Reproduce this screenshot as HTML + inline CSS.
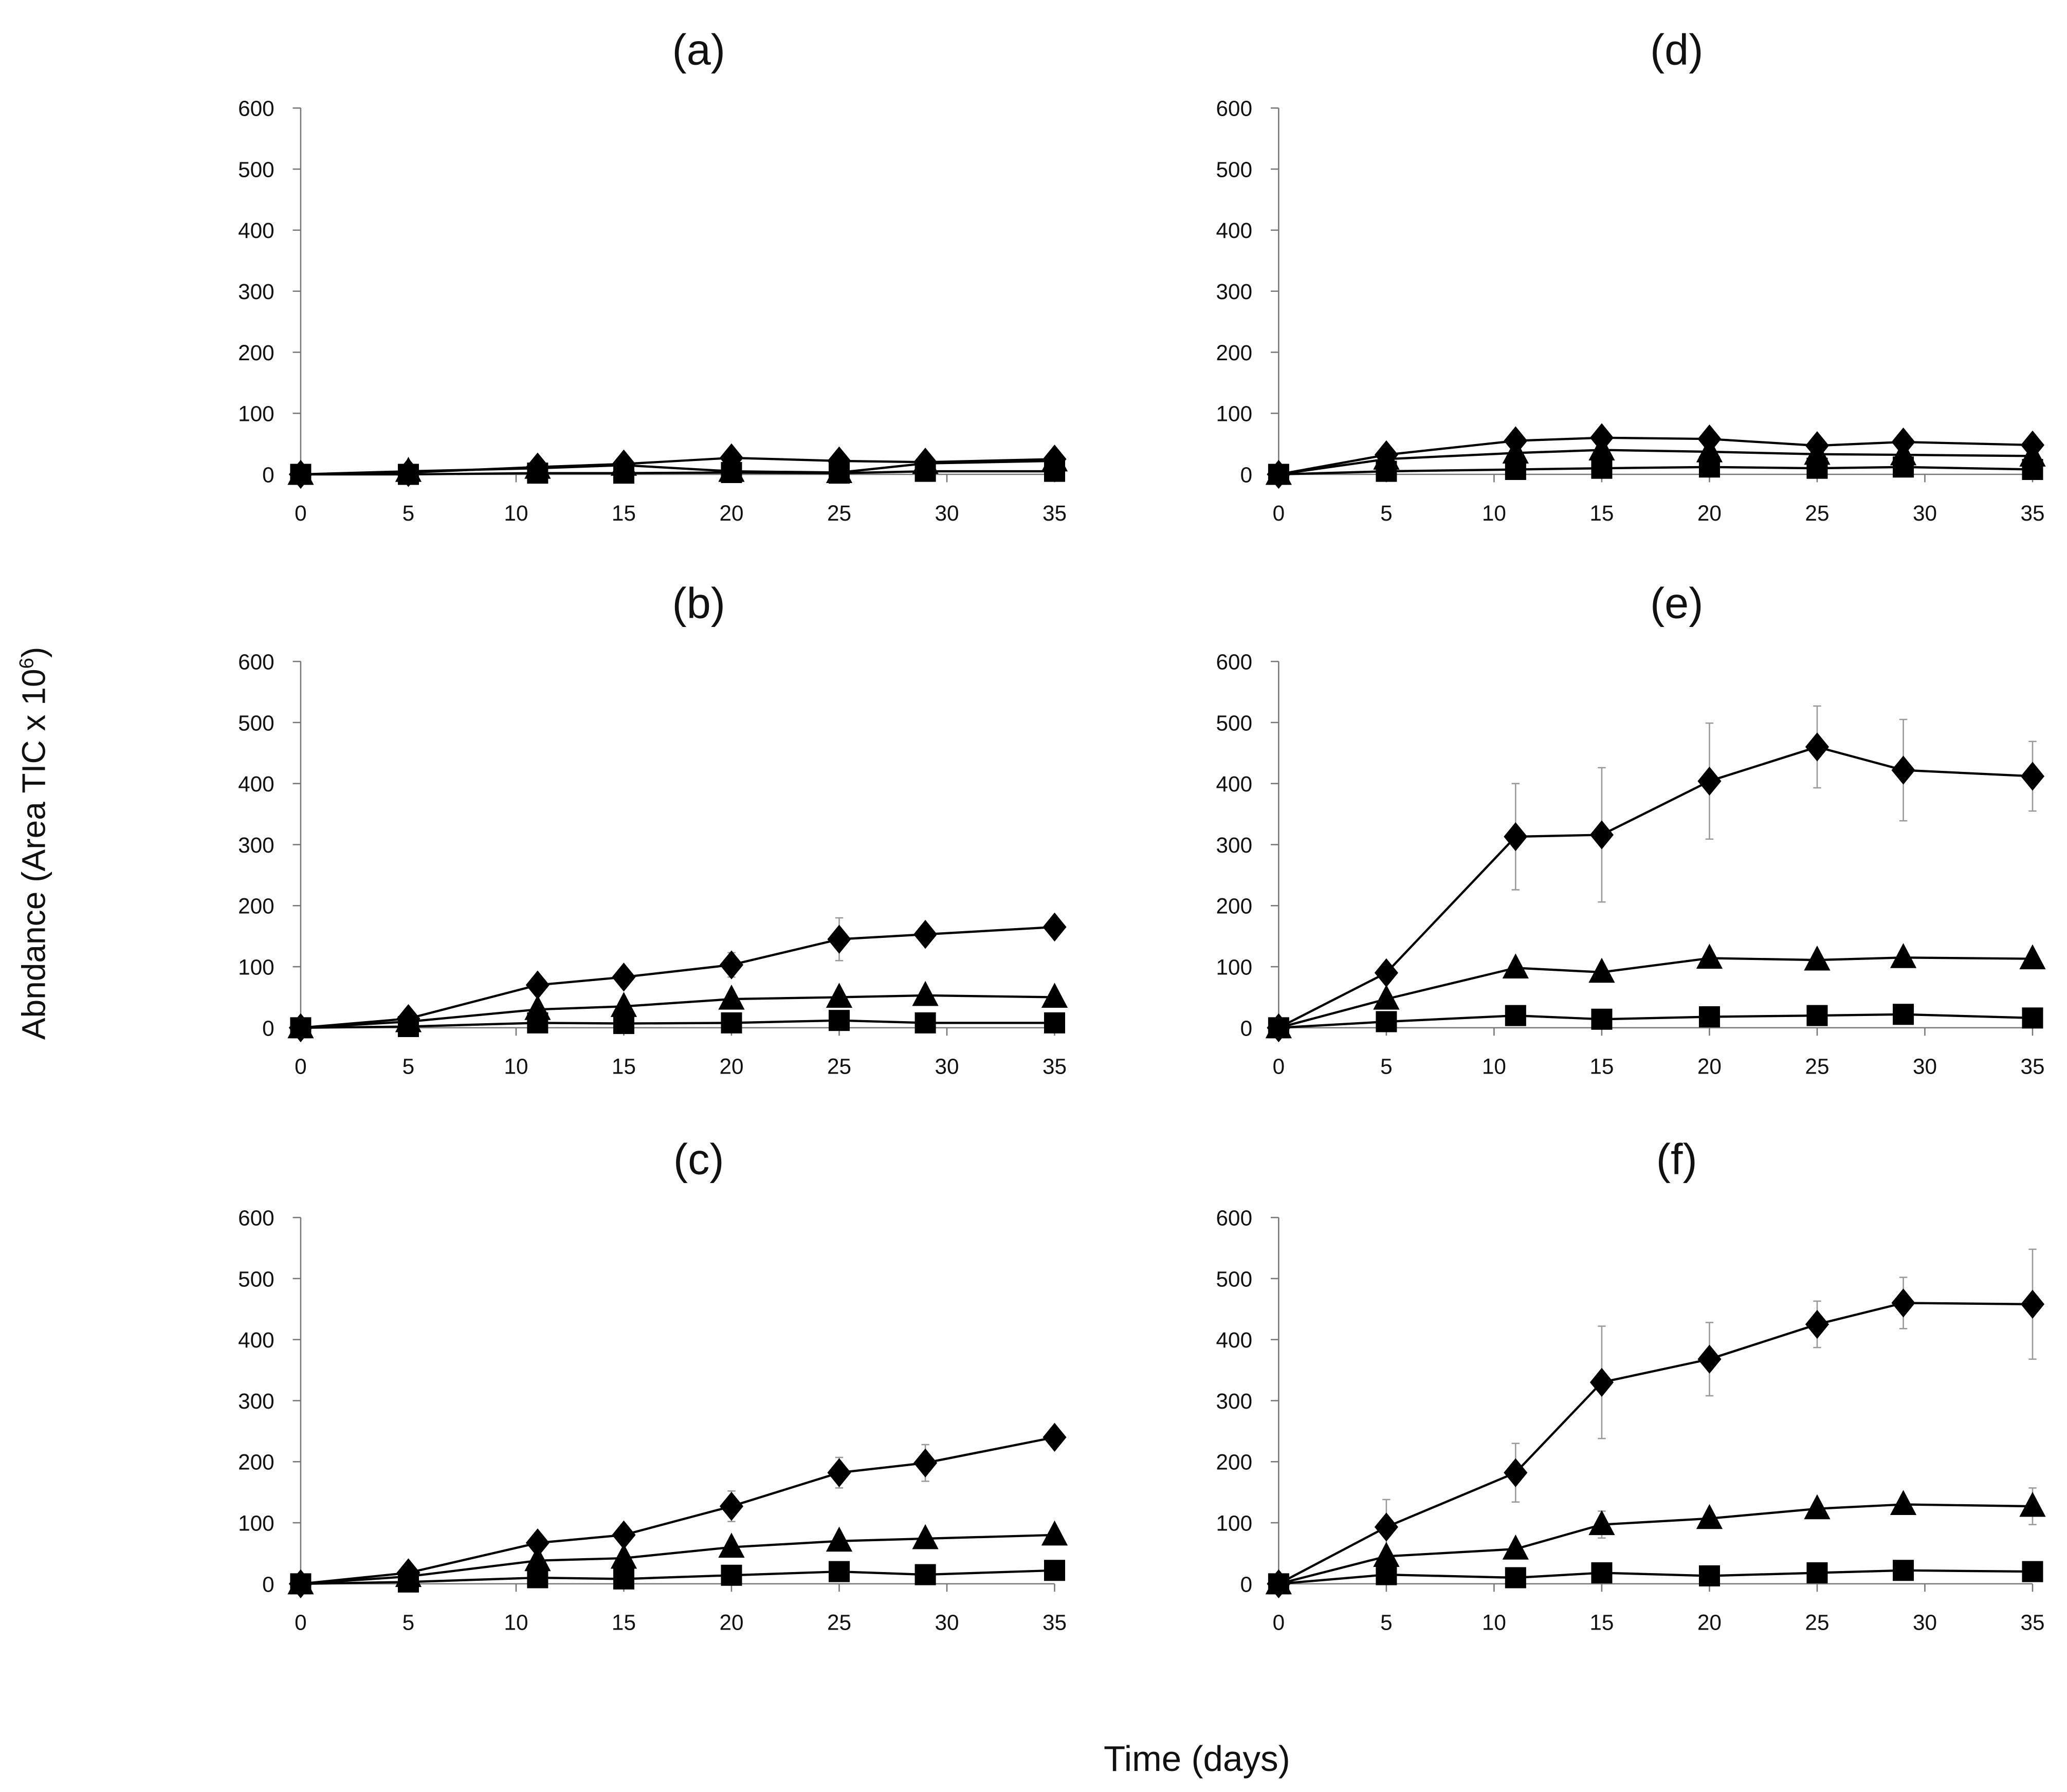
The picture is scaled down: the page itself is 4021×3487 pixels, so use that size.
<!DOCTYPE html>
<html><head><meta charset="utf-8"><style>
html,body{margin:0;padding:0;background:#fff;}
svg{display:block;}
text{font-family:"Liberation Sans",sans-serif;fill:#111;}
</style></head><body>
<svg id="fig" width="4021" height="3487" viewBox="0 0 1568 1360" xmlns="http://www.w3.org/2000/svg">
<text x="34" y="640" font-size="25" text-anchor="middle" transform="rotate(-90 34 640)">Abndance (Area TIC x 10<tspan dy="-9" font-size="15">6</tspan><tspan dy="9">)</tspan></text>
<text x="908" y="1344" font-size="27" text-anchor="middle">Time (days)</text>
</svg>
<script>
const days = [0,5,11,15,20,25,29,35];
const xTicks = [0,5,10,15,20,25,30,35];
const yTicks = [0,100,200,300,400,500,600];
const panelNames = ['a','b','c','d','e','f'];
const diamondA=[0,3,12,17,27,22,20,25], triangleA=[0,5,10,15,5,3,18,22], squareA=[0,0,2,2,3,2,5,5];
const diamondB=[0,15,70,83,103,145,153,165], triangleB=[0,10,30,35,47,50,53,50], squareB=[0,2,8,7,8,12,8,8];
const diamondBErr=[0,0,0,0,20,35,0,0];
const diamondC=[0,18,67,80,127,182,198,240], triangleC=[0,12,38,42,60,70,74,80], squareC=[0,3,10,8,14,20,15,22];
const diamondCErr=[0,0,0,0,25,25,30,0];
const diamondD=[0,32,55,60,58,47,53,48], triangleD=[0,25,35,40,37,33,32,30], squareD=[0,5,8,10,12,10,12,8];
const diamondE=[0,90,313,316,404,460,422,412], triangleE=[0,47,98,91,114,111,115,113], squareE=[0,10,20,14,18,20,22,16];
const diamondEErr=[0,0,87,110,95,67,83,57];
const diamondF=[0,93,182,330,368,425,460,458], triangleF=[0,45,57,97,107,123,130,127], squareF=[0,15,10,18,13,18,22,20];
const diamondFErr=[0,45,48,92,60,38,42,90], triangleFErr=[0,0,0,22,0,0,0,30];

const panels=[
 {n:'a',x0:228,yTop:82,d:diamondA,t:triangleA,s:squareA},
 {n:'b',x0:228,yTop:502,d:diamondB,t:triangleB,s:squareB,de:diamondBErr},
 {n:'c',x0:228,yTop:924,d:diamondC,t:triangleC,s:squareC,de:diamondCErr},
 {n:'d',x0:970,yTop:82,d:diamondD,t:triangleD,s:squareD},
 {n:'e',x0:970,yTop:502,d:diamondE,t:triangleE,s:squareE,de:diamondEErr},
 {n:'f',x0:970,yTop:924,d:diamondF,t:triangleF,s:squareF,de:diamondFErr,te:triangleFErr}
];
const NS='http://www.w3.org/2000/svg';
const svg=document.getElementById('fig');
function mk(tag,attrs,parent){const e=document.createElementNS(NS,tag);for(const k in attrs)e.setAttribute(k,attrs[k]);(parent||svg).appendChild(e);return e;}
panels.forEach(p=>{
 const W=572,H=278;
 const sx=v=>p.x0+v/35*W;
 const sy=v=>p.yTop+H-v/600*H;
 const g=mk('g',{});
 
 
 const title=mk('text',{x:p.x0+302,y:p.yTop-33,'font-size':'33','text-anchor':'middle'},g);
 title.textContent='('+p.n+')';
 
 
 mk('line',{x1:p.x0,y1:p.yTop,x2:p.x0,y2:p.yTop+H,stroke:'#777','stroke-width':1},g);
 mk('line',{x1:p.x0,y1:p.yTop+H,x2:p.x0+W,y2:p.yTop+H,stroke:'#777','stroke-width':1},g);
 yTicks.forEach(v=>{
  mk('line',{x1:p.x0-6,y1:sy(v),x2:p.x0,y2:sy(v),stroke:'#777','stroke-width':1},g);
  const t=mk('text',{x:p.x0-20,y:sy(v)+6,'font-size':'16.5','text-anchor':'end'},g);
  t.textContent=v;
  
  
 });
 xTicks.forEach(v=>{
  mk('line',{x1:sx(v),y1:p.yTop+H,x2:sx(v),y2:p.yTop+H+6,stroke:'#777','stroke-width':1},g);
  const t=mk('text',{x:sx(v),y:p.yTop+H+35,'font-size':'16.5','text-anchor':'middle'},g);
  t.textContent=v;
  
  
 });
 function errs(vals,e){ if(!e)return; vals.forEach((v,i)=>{ if(!e[i])return;
  mk('line',{x1:sx(days[i]),y1:sy(v+e[i]),x2:sx(days[i]),y2:sy(v-e[i]),stroke:'#999','stroke-width':1},g);
  [v+e[i],v-e[i]].forEach(c=>mk('line',{x1:sx(days[i])-3,y1:sy(c),x2:sx(days[i])+3,y2:sy(c),stroke:'#999','stroke-width':1},g));
 });}
 errs(p.d,p.de); errs(p.t,p.te);
 function series(vals,shape){
  const l=mk('polyline',{points:vals.map((v,i)=>sx(days[i])+','+sy(v)).join(' '),fill:'none',stroke:'#000','stroke-width':1.7},g);
  
  
  vals.forEach((v,i)=>{
   const x=sx(days[i]),y=sy(v);let m;
   if(shape==='diamond')m=mk('polygon',{points:`${x},${y-11} ${x+9},${y} ${x},${y+11} ${x-9},${y}`,fill:'#000'},g);
   else if(shape==='triangle')m=mk('polygon',{points:`${x},${y-11} ${x+10},${y+8} ${x-10},${y+8}`,fill:'#000'},g);
   else m=mk('rect',{x:x-8,y:y-8,width:16,height:16,fill:'#000'},g);
   
   
  });
 }
 series(p.s,'square'); series(p.t,'triangle'); series(p.d,'diamond');
});
</script>
</body></html>
